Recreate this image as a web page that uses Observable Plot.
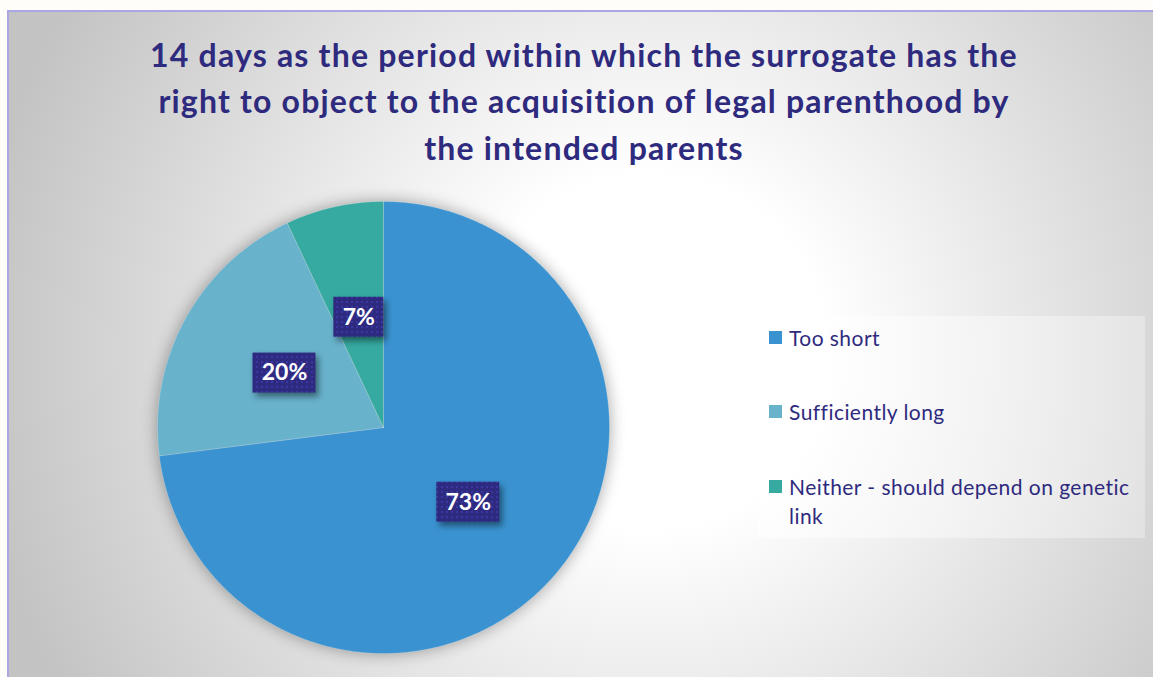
<!DOCTYPE html>
<html>
<head>
<meta charset="utf-8">
<script src="https://cdn.jsdelivr.net/npm/d3@7"></script>
<script src="https://cdn.jsdelivr.net/npm/@observablehq/plot@0.6"></script>
<style>
  html, body { margin: 0; padding: 0; background: #fffdf9; }
  #wrap { position: relative; width: 1153px; height: 677px; overflow: hidden; font-family: Lato, "Open Sans", sans-serif; }
  #frame { position: absolute; left: 7px; top: 10px; width: 1200px; height: 720px;
    border-left: 2px solid #aba7e4; border-top: 2px solid #aba7e4;
    background: radial-gradient(circle 680px at 640px 340px, #ffffff 0%, #ffffff 26%, #c3c3c3 100%); }
  #title { position: absolute; left: 0; width: 1168px; top: 31.5px; text-align: center;
    font-weight: bold; font-size: 32px; letter-spacing: 1.2px; line-height: 46.5px; color: #2e2a7e; }
  #legend { position: absolute; left: 757px; top: 316px; width: 388px; height: 222px;
    background: linear-gradient(to right, rgba(255,255,255,0.55), rgba(255,255,255,0.3)); }
  .item { position: absolute; left: 32px; font-size: 21px; letter-spacing: 0.45px; line-height: 29px; color: #2e2a7e; width: 370px; }
  .sw { position: absolute; left: -20px; top: 8px; width: 13px; height: 13px; }
  #chart { position: absolute; left: 0; top: 0; }
</style>
</head>
<body>
<div id="wrap">
  <div id="frame"></div>
  <div id="title">14 days as the period within which the surrogate has the<br>right to object to the acquisition of legal parenthood by<br>the intended parents</div>
  <div id="legend"></div>
  <div id="chart"></div>
</div>
<script>
const categories = ["Too short", "Sufficiently long", "Neither - should depend on genetic link"];
const values = [73, 20, 7];
const labels = ["73%", "20%", "7%"];
const colors = ["#3a93d0", "#68b2cc", "#36aaa0"];
const legendLines = [["Too short"], ["Sufficiently long"], ["Neither - should depend on genetic", "link"]];

(function () {
  // Build wedge outlines from the data (angles clockwise from 12 o'clock)
  const total = d3.sum(values);
  const wedgePts = [];
  const labelPts = [];
  let acc = 0;
  categories.forEach((c, i) => {
    const a0 = acc / total * 2 * Math.PI;
    acc += values[i];
    const a1 = acc / total * 2 * Math.PI;
    wedgePts.push({category: c, x: 0, y: 0});
    const n = Math.max(2, Math.ceil((a1 - a0) / (Math.PI / 360)));
    for (let k = 0; k <= n; k++) {
      const a = a0 + (a1 - a0) * k / n;
      wedgePts.push({category: c, x: Math.sin(a), y: Math.cos(a)});
    }
    wedgePts.push({category: c, x: 0, y: 0});
    const am = (a0 + a1) / 2;
    labelPts.push({category: c, label: labels[i], x: 0.5 * Math.sin(am), y: 0.5 * Math.cos(am), w: labels[i].length * 13 + 24});
  });

  const W = 1153, H = 677;
  const pL = 157, pR = 609, pT = 201, pB = 653;
  const rPx = (pR - pL) / 2;
  const boxH = 40;

  const plot = Plot.plot({
    width: W, height: H,
    marginLeft: pL, marginRight: W - pR, marginTop: pT, marginBottom: H - pB,
    x: {domain: [-1, 1], axis: null},
    y: {domain: [-1, 1], axis: null},
    color: {domain: categories, range: colors},
    style: {background: "transparent", fontFamily: "Lato, 'Open Sans', sans-serif", overflow: "visible"},
    marks: [
      Plot.line(wedgePts, {x: "x", y: "y", z: "category", fill: "category", stroke: "#ffffff", strokeOpacity: 0.25, strokeWidth: 0.8, curve: "linear"}),
      Plot.rect(labelPts, {
        x1: d => d.x - d.w / 2 / rPx, x2: d => d.x + d.w / 2 / rPx,
        y1: d => d.y - boxH / 2 / rPx, y2: d => d.y + boxH / 2 / rPx,
        fill: "url(#dots)"
      }),
      Plot.text(labelPts, {x: "x", y: "y", text: "label", fill: "white", fontSize: 23, fontWeight: "bold"})
    ]
  });

  const svg = d3.select(plot);
  const defs = svg.insert("defs", ":first-child");
  const pat = defs.append("pattern").attr("id", "dots").attr("patternUnits", "userSpaceOnUse")
    .attr("width", 5).attr("height", 5);
  pat.append("rect").attr("width", 5).attr("height", 5).attr("fill", "#2e2a80");
  pat.append("rect").attr("x", 1).attr("y", 1).attr("width", 2).attr("height", 2).attr("fill", "#3a37a0");
  svg.selectAll('g[aria-label="line"]').style("filter", "drop-shadow(0px 0px 8px rgba(0,0,0,0.35))");
  svg.selectAll('g[aria-label="rect"] rect').style("filter", "drop-shadow(3px 4px 3px rgba(0,0,0,0.45))");
  document.getElementById("chart").appendChild(plot);

  // Legend from data
  const legend = d3.select("#legend");
  const tops = [7, 81, 156];
  categories.forEach((c, i) => {
    const it = legend.append("div").attr("class", "item").style("top", tops[i] + "px");
    it.append("div").attr("class", "sw").style("background", colors[i]);
    it.append("span").html(legendLines[i].join("<br>"));
  });
})();
</script>
</body>
</html>
